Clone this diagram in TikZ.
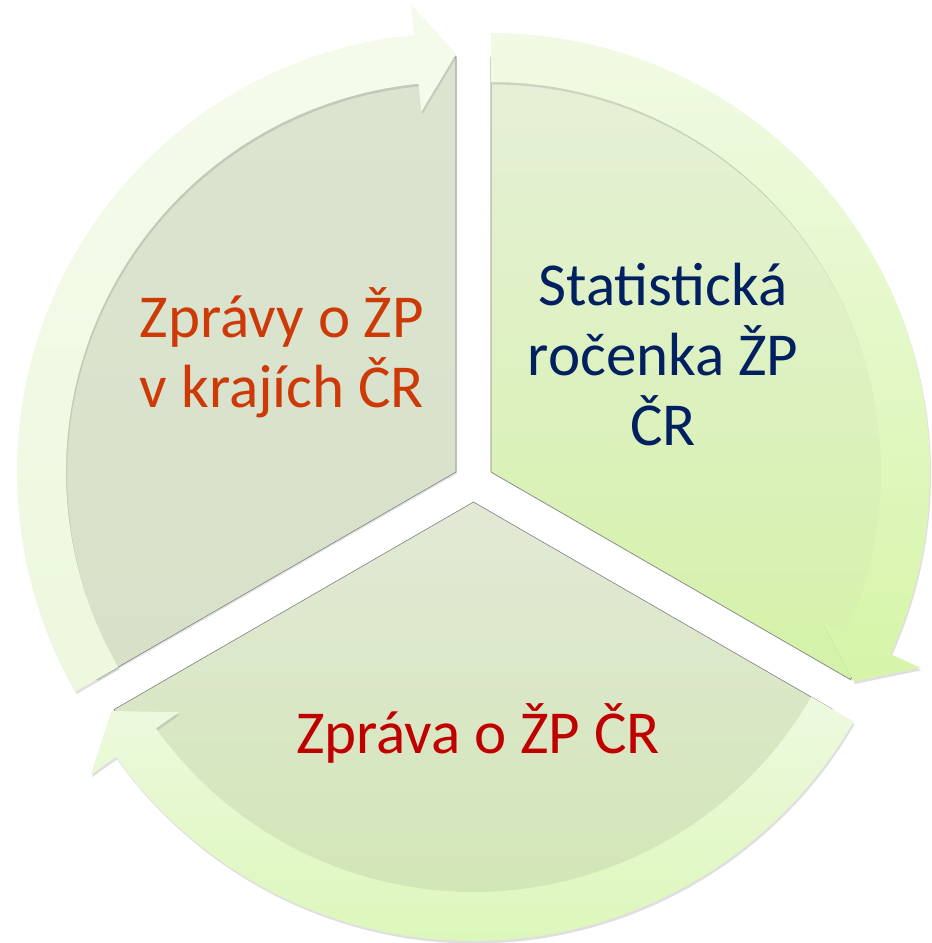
\documentclass[tikz,border=0pt]{standalone}
\usepackage{fontspec}
\setmainfont{Carlito}
\usetikzlibrary{shadows}
\definecolor{txtL}{RGB}{205,58,8}
\definecolor{txtR}{RGB}{0,32,96}
\definecolor{txtB}{RGB}{192,0,0}
\definecolor{segLtop}{RGB}{220,228,208}
\definecolor{segLbot}{RGB}{215,225,200}
\definecolor{segRtop}{RGB}{231,240,217}
\definecolor{segRbot}{RGB}{212,242,168}
\definecolor{segBtop}{RGB}{226,233,214}
\definecolor{segBbot}{RGB}{207,229,176}
\definecolor{arrLtop}{RGB}{245,251,236}
\definecolor{arrLbot}{RGB}{237,248,222}
\definecolor{arrRtop}{RGB}{241,250,228}
\definecolor{arrRbot}{RGB}{214,245,168}
\definecolor{arrBtop}{RGB}{238,249,224}
\definecolor{arrBbot}{RGB}{220,247,186}
\tikzset{
  segshape/.style={draw=black!50, line width=0.6pt,
    drop shadow={shadow xshift=1pt, shadow yshift=-1.5pt, opacity=0.22}},
  ringarrow/.style={
    drop shadow={shadow xshift=1pt, shadow yshift=-2.5pt, opacity=0.25}},
  segtext/.style={inner sep=0pt, anchor=base,
    font=\fontsize{61}{68}\selectfont}
}
\begin{document}
\begin{tikzpicture}[x=1pt,y=-1pt]
\useasboundingbox[fill=white] (0,0) rectangle (932,943);
% left segment
\begin{scope}[shift={(456,472)}]
  \path[segshape, top color=segLtop, bottom color=segLbot]
    (0,0) -- (150:415) arc[start angle=150, end angle=270, radius=415] -- cycle;
  \path[ringarrow, top color=arrLtop, bottom color=arrLbot]
    (150:439) arc[start angle=150, end angle=264.5, radius=439]
    -- (264.5:470) -- (270:418) -- (264.5:362) -- (264.5:390)
    arc[start angle=264.5, end angle=150, radius=390] -- cycle;
\end{scope}
% right segment
\begin{scope}[shift={(491,472)}]
  \path[segshape, top color=segRtop, bottom color=segRbot]
    (0,0) -- (270:415) arc[start angle=270, end angle=390, radius=415] -- cycle;
  \path[ringarrow, top color=arrRtop, bottom color=arrRbot]
    (270:439) arc[start angle=270, end angle=384.5, radius=439]
    -- (384.5:472) -- (390:419) -- (384.5:365) -- (384.5:390)
    arc[start angle=384.5, end angle=270, radius=390] -- cycle;
\end{scope}
% bottom segment
\begin{scope}[shift={(473.5,502)}]
  \path[segshape, top color=segBtop, bottom color=segBbot]
    (0,0) -- (30:415) arc[start angle=30, end angle=150, radius=415] -- cycle;
  \path[ringarrow, top color=arrBtop, bottom color=arrBbot]
    (30:439) arc[start angle=30, end angle=144.5, radius=439]
    -- (144.5:470) -- (150:418) -- (144.5:362) -- (144.5:390)
    arc[start angle=144.5, end angle=30, radius=390] -- cycle;
\end{scope}
% texts
\node[segtext, text=txtL] (tL) at (282,337)
  {\begin{tabular}[t]{@{}c@{}}Zprávy o ŽP\\ v krajích ČR\end{tabular}};
\node[segtext, text=txtR] (tR) at (663,305)
  {\begin{tabular}[t]{@{}c@{}}Statistická\\ ročenka ŽP\\ ČR\end{tabular}};
\node[segtext, text=txtB] (tB) at (478,753) {Zpráva o ŽP ČR};
\end{tikzpicture}
\end{document}
